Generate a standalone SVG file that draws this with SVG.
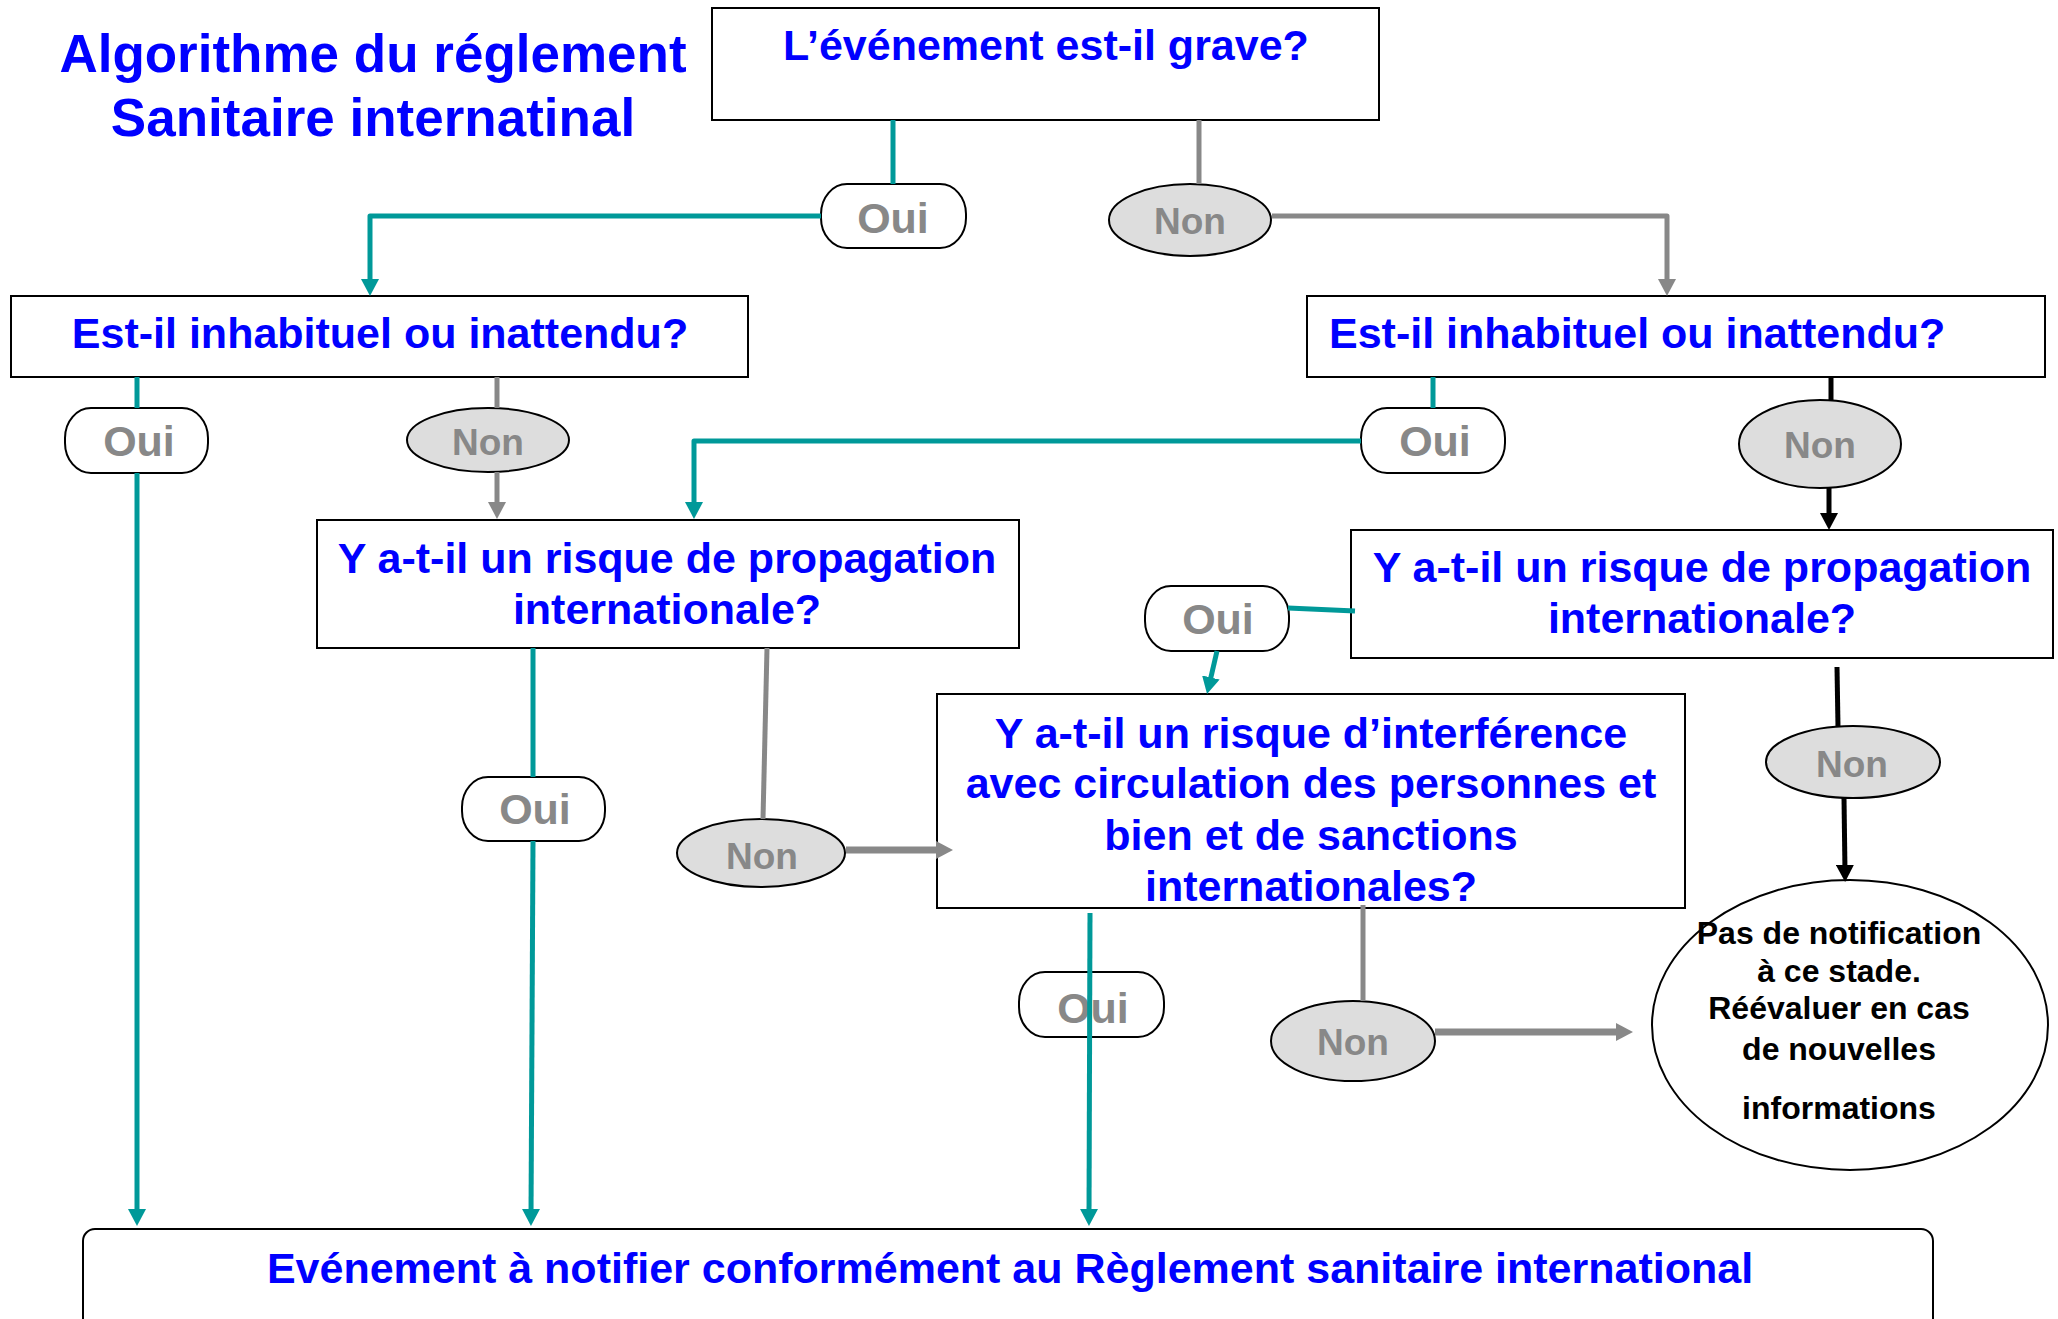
<svg xmlns="http://www.w3.org/2000/svg" width="2058" height="1319" viewBox="0 0 2058 1319">
  <style>
    .box { fill: #ffffff; stroke: #000000; stroke-width: 2; }
    .pill { fill: #ffffff; stroke: #000000; stroke-width: 2; }
    .no { fill: #dddddd; stroke: #000000; stroke-width: 2; }
    .q { font-family: "Liberation Sans", Arial, sans-serif; font-weight: bold; font-size: 43px; fill: #0000ff; text-anchor: middle; }
    .title { font-family: "Liberation Sans", Arial, sans-serif; font-weight: bold; font-size: 53px; fill: #0000ff; text-anchor: middle; }
    .yes { font-family: "Liberation Sans", Arial, sans-serif; font-weight: bold; font-size: 43px; fill: #888888; text-anchor: middle; }
    .nolbl { font-family: "Liberation Sans", Arial, sans-serif; font-weight: bold; font-size: 37px; fill: #888888; text-anchor: middle; }
    .note { font-family: "Liberation Sans", Arial, sans-serif; font-weight: bold; font-size: 32px; fill: #000000; text-anchor: middle; }
    .teal { fill: none; stroke: #009999; stroke-width: 5; stroke-linejoin: round; }
    .grey { fill: none; stroke: #888888; stroke-width: 5; stroke-linejoin: round; }
    .greyw { fill: none; stroke: #888888; stroke-width: 7; }
    .black { fill: none; stroke: #000000; stroke-width: 5; }
  </style>
  <defs>
    <marker id="aTeal" markerUnits="userSpaceOnUse" markerWidth="18" markerHeight="18" refX="7" refY="9" orient="auto">
      <path d="M0,0 L17,9 L0,18 Z" fill="#009999"/>
    </marker>
    <marker id="aGrey" markerUnits="userSpaceOnUse" markerWidth="18" markerHeight="18" refX="7" refY="9" orient="auto">
      <path d="M0,0 L17,9 L0,18 Z" fill="#888888"/>
    </marker>
    <marker id="aBlack" markerUnits="userSpaceOnUse" markerWidth="18" markerHeight="18" refX="7" refY="9" orient="auto">
      <path d="M0,0 L17,9 L0,18 Z" fill="#000000"/>
    </marker>
  </defs>

  <rect width="2058" height="1319" fill="#ffffff"/>

  <g id="title">
    <text class="title" x="373" y="72">Algorithme du réglement</text>
    <text class="title" x="373" y="136">Sanitaire internatinal</text>
  </g>

  <g id="nodes">
    <g id="q-grave">
      <rect class="box" x="712" y="8" width="667" height="112"/>
      <text class="q" x="1046" y="60">L’événement est-il grave?</text>
    </g>
    <g id="oui-1">
      <rect class="pill" x="821" y="184" width="145" height="64" rx="26" ry="30"/>
      <text class="yes" x="893" y="233">Oui</text>
    </g>
    <g id="non-1">
      <ellipse class="no" cx="1190" cy="220" rx="81" ry="36"/>
      <text class="nolbl" x="1190" y="234">Non</text>
    </g>

    <g id="q-inhabituel-a">
      <rect class="box" x="11" y="296" width="737" height="81"/>
      <text class="q" x="380" y="348">Est-il inhabituel ou inattendu?</text>
    </g>
    <g id="q-inhabituel-b">
      <rect class="box" x="1307" y="296" width="738" height="81"/>
      <text class="q" x="1329" y="348" style="text-anchor:start">Est-il inhabituel ou inattendu?</text>
    </g>

    <g id="oui-2">
      <rect class="pill" x="65" y="408" width="143" height="65" rx="26" ry="30"/>
      <text class="yes" x="139" y="456">Oui</text>
    </g>
    <g id="non-2">
      <ellipse class="no" cx="488" cy="440" rx="81" ry="32"/>
      <text class="nolbl" x="488" y="455">Non</text>
    </g>
    <g id="oui-3">
      <rect class="pill" x="1361" y="408" width="144" height="65" rx="26" ry="30"/>
      <text class="yes" x="1435" y="456">Oui</text>
    </g>
    <g id="non-3">
      <ellipse class="no" cx="1820" cy="444" rx="81" ry="44"/>
      <text class="nolbl" x="1820" y="458">Non</text>
    </g>

    <g id="q-propagation-a">
      <rect class="box" x="317" y="520" width="702" height="128"/>
      <text class="q" x="667" y="573">Y a-t-il un risque de propagation</text>
      <text class="q" x="667" y="624">internationale?</text>
    </g>
    <g id="q-propagation-b">
      <rect class="box" x="1351" y="530" width="702" height="128"/>
      <text class="q" x="1702" y="582">Y a-t-il un risque de propagation</text>
      <text class="q" x="1702" y="633">internationale?</text>
    </g>

    <g id="oui-4">
      <rect class="pill" x="1145" y="586" width="144" height="65" rx="26" ry="30"/>
      <text class="yes" x="1218" y="634">Oui</text>
    </g>

    <g id="q-interference">
      <rect class="box" x="937" y="694" width="748" height="214"/>
      <text class="q" x="1311" y="748">Y a-t-il un risque d’interférence</text>
      <text class="q" x="1311" y="798">avec circulation des personnes et</text>
      <text class="q" x="1311" y="850">bien et de sanctions</text>
      <text class="q" x="1311" y="901">internationales?</text>
    </g>

    <g id="oui-5">
      <rect class="pill" x="462" y="777" width="143" height="64" rx="26" ry="30"/>
      <text class="yes" x="535" y="824">Oui</text>
    </g>
    <g id="non-4">
      <ellipse class="no" cx="761" cy="853" rx="84" ry="34"/>
      <text class="nolbl" x="762" y="869">Non</text>
    </g>
    <g id="non-5">
      <ellipse class="no" cx="1853" cy="762" rx="87" ry="36"/>
      <text class="nolbl" x="1852" y="777">Non</text>
    </g>

    <g id="oui-6">
      <rect class="pill" x="1019" y="972" width="145" height="65" rx="26" ry="30"/>
      <text class="yes" x="1093" y="1023">Oui</text>
    </g>
    <g id="non-6">
      <ellipse class="no" cx="1353" cy="1041" rx="82" ry="40"/>
      <text class="nolbl" x="1353" y="1055">Non</text>
    </g>

    <g id="pas-de-notification">
      <ellipse fill="#ffffff" stroke="#000000" stroke-width="2" cx="1850" cy="1025" rx="198" ry="145"/>
      <text class="note" x="1839" y="944">Pas de notification</text>
      <text class="note" x="1839" y="982">à ce stade.</text>
      <text class="note" x="1839" y="1019">Réévaluer en cas</text>
      <text class="note" x="1839" y="1060">de nouvelles</text>
      <text class="note" x="1839" y="1119">informations</text>
    </g>

    <g id="notifier">
      <rect class="box" x="83" y="1229" width="1850" height="120" rx="12" ry="12" stroke-width="2.5"/>
      <text class="q" x="1010" y="1283">Evénement à notifier conformément au Règlement sanitaire international</text>
    </g>
  </g>

  <g id="connectors">
    <!-- grave -->
    <path class="teal" d="M893,120 V184"/>
    <path class="grey" d="M1199,120 V184"/>
    <path class="teal" d="M821,216 H370 V286" marker-end="url(#aTeal)"/>
    <path class="grey" d="M1272,216 H1667 V286" marker-end="url(#aGrey)"/>

    <!-- inhabituel (left) -->
    <path class="teal" d="M137,377 V408"/>
    <path class="teal" d="M137,473 V1216" marker-end="url(#aTeal)"/>
    <path class="grey" d="M497,377 V408"/>
    <path class="grey" d="M497,472 V509" marker-end="url(#aGrey)"/>

    <!-- inhabituel (right) -->
    <path class="teal" d="M1433,377 V408"/>
    <path class="teal" d="M1361,441 H694 V509" marker-end="url(#aTeal)"/>
    <path class="black" d="M1831,377 V400"/>
    <path class="black" d="M1829,488 V520" marker-end="url(#aBlack)"/>

    <!-- propagation (left) -->
    <path class="teal" d="M533,648 V777"/>
    <path class="teal" d="M533,841 L531,1216" marker-end="url(#aTeal)"/>
    <path class="grey" d="M767,648 L763,819"/>
    <path class="greyw" d="M846,850 H943" marker-end="url(#aGrey)"/>

    <!-- propagation (right) -->
    <path class="teal" d="M1355,611 L1288,608"/>
    <path class="teal" d="M1217,651 L1209.3,684.3" marker-end="url(#aTeal)"/>
    <path class="black" d="M1837,667 L1838,727"/>
    <path class="black" d="M1844,798 L1845,872" marker-end="url(#aBlack)"/>

    <!-- interference -->
    <path class="teal" d="M1090,913 L1089,1216" marker-end="url(#aTeal)"/>
    <path class="grey" d="M1363,905 V1001"/>
    <path class="greyw" d="M1435,1032 H1623" marker-end="url(#aGrey)"/>
  </g>
</svg>
